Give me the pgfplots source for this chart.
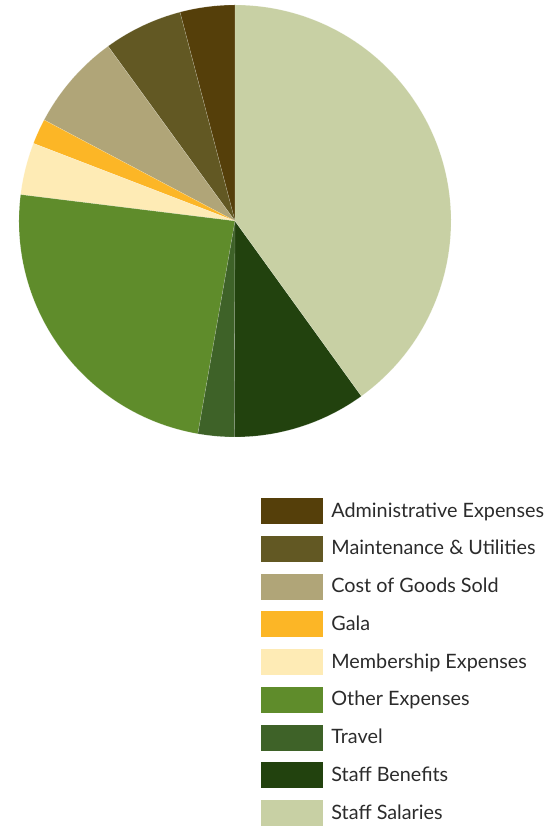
\documentclass[border=0pt]{standalone}
\usepackage{pgfplots}
\usepackage{pgfplotstable}
\pgfplotsset{compat=1.18}
\usepackage{fontspec}
\setmainfont{Lato}

\definecolor{cAdmin}{HTML}{553F0A}
\definecolor{cMaint}{HTML}{625823}
\definecolor{cCogs}{HTML}{B0A578}
\definecolor{cGala}{HTML}{FCB626}
\definecolor{cMemb}{HTML}{FEEBB5}
\definecolor{cOther}{HTML}{5F8C2B}
\definecolor{cTravel}{HTML}{3E6228}
\definecolor{cBenefit}{HTML}{22420E}
\definecolor{cSalary}{HTML}{C8D0A4}
\definecolor{txt}{HTML}{2B2B2B}

% share of total (percent), listed counterclockwise from 12 o'clock
\pgfplotstableread[col sep=comma]{
label,value,color
Administrative Expenses,4.1,cAdmin
Maintenance \& Utilities,5.9,cMaint
Cost of Goods Sold,7.25,cCogs
Gala,1.9,cGala
Membership Expenses,3.9,cMemb
Other Expenses,24.2,cOther
Travel,2.7,cTravel
Staff Benefits,10.0,cBenefit
Staff Salaries,40.05,cSalary
}\piedata

\begin{document}
\begin{tikzpicture}
\begin{axis}[
    x=1pt, y=1pt,
    xmin=0, xmax=554, ymin=0, ymax=828,
    hide axis,
    clip=false,
    legend cell align=left,
    legend image code/.code={\fill[#1] (0pt,-12.5pt) rectangle (61pt,12.5pt);},
    legend style={
        draw=none, fill=none, inner sep=0pt, outer sep=0pt,
        at={(axis cs:261,330)}, anchor=north west,
        row sep=12.35pt, column sep=9pt,
        font=\fontsize{19.8}{21}\selectfont, text=txt,
        nodes={inner sep=0pt, minimum height=25pt},
    },
]
\def\a{90}
\pgfplotsforeachungrouped \i in {0,...,8}{
    \pgfplotstablegetelem{\i}{value}\of\piedata \let\v\pgfplotsretval
    \pgfplotstablegetelem{\i}{color}\of\piedata \let\c\pgfplotsretval
    \pgfplotstablegetelem{\i}{label}\of\piedata \let\lab\pgfplotsretval
    \pgfmathsetmacro\b{\a+3.6*\v}
    \edef\temp{\noexpand\fill[\c, draw=white, draw opacity=0.35, line width=0.3pt]
        (axis cs:235,607) -- ++(\a:216pt) arc[start angle=\a, end angle=\b, radius=216pt] -- cycle;}
    \temp
    \edef\temp{\noexpand\addlegendimage{\c}}
    \temp
    \expandafter\addlegendentry\expandafter{\lab}
    \global\let\a\b
}
\end{axis}
\pgfresetboundingbox
\useasboundingbox (current axis.south west) rectangle (current axis.north east);
\end{tikzpicture}
\end{document}
